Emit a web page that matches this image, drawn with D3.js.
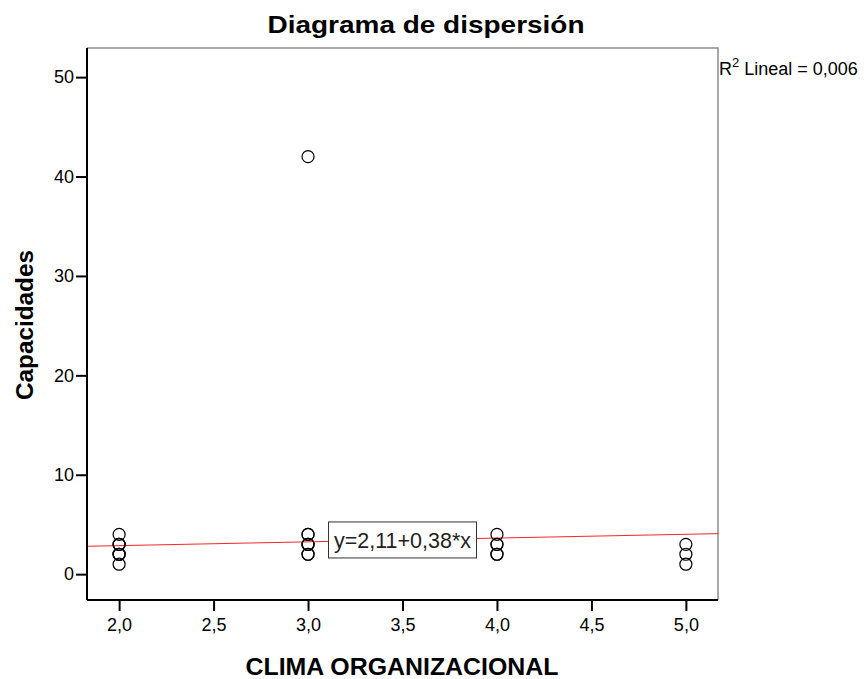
<!DOCTYPE html>
<html><head><meta charset="utf-8">
<script src="https://cdn.jsdelivr.net/npm/d3@7"></script>
<style>body{margin:0;background:#fff}svg{display:block;font-family:Arial,"Liberation Sans",sans-serif}</style>
</head><body><svg id="c" width="866" height="679"></svg>
<script>
const title = "Diagrama de dispersión";
const xLabel = "CLIMA ORGANIZACIONAL";
const yLabel = "Capacidades";
const xTicks = [2.0, 2.5, 3.0, 3.5, 4.0, 4.5, 5.0];
const yTicks = [0, 10, 20, 30, 40, 50];
const pointsX = [2,2,2,2,2,2,2,2, 3,3,3,3,3,3,3,3, 4,4,4,4,4, 5,5,5];
const pointsY = [1,2,2,2,3,3,3,4, 2,2,3,3,3,4,4,42, 2,2,3,3,4, 1,2,3];
const intercept = 2.11, slope = 0.38;
const eqText = "y=2,11+0,38*x";
const r2Text = "0,006";

const svg = d3.select("#c");
const L = 87, R = 718, T = 48, B = 600;
const x = d3.scaleLinear().domain([1.83, 5.17]).range([L, R]);
const y = d3.scaleLinear().domain([-2.6, 52.93]).range([B, T]);
const fmt = d => d.toFixed(1).replace(".", ",");

// frame top/right (gray)
svg.append("path").attr("d", `M${L},${T}H${R}V${B}`).attr("fill","none").attr("stroke","#8c8c8c").attr("stroke-width",1.5);

// regression line
const xd = x.domain();
svg.append("line").attr("x1", x(xd[0])).attr("x2", x(xd[1]))
  .attr("y1", y(intercept + slope*xd[0])).attr("y2", y(intercept + slope*xd[1]))
  .attr("stroke","#ff0000").attr("stroke-width",1).attr("opacity",0.85);

// points
svg.append("g").selectAll("circle").data(pointsX.map((v,i)=>[v,pointsY[i]])).join("circle")
  .attr("cx", d=>x(d[0])).attr("cy", d=>y(d[1])).attr("r", 6)
  .attr("fill","none").attr("stroke","#000").attr("stroke-width",1.2);

// equation box
const eg = svg.append("g").attr("transform", `translate(${x(3.5)},${y(intercept+slope*3.5)})`);
eg.append("rect").attr("x", -74).attr("y", -18).attr("width", 148).attr("height", 36)
  .attr("fill","#fff").attr("stroke","#333").attr("stroke-width",1);
eg.append("text").attr("text-anchor","middle").attr("dy","0.35em").attr("font-size",22)
  .attr("textLength",137).attr("lengthAdjust","spacingAndGlyphs").attr("fill","#222").text(eqText);

// axes
const xAxis = d3.axisBottom(x).tickValues(xTicks).tickFormat(fmt).tickSize(11).tickSizeOuter(0);
const gx = svg.append("g").attr("transform", `translate(0,${B})`).call(xAxis);
gx.select(".domain").attr("stroke","#000").attr("stroke-width",2).attr("d", `M${L},0H${R}`);
gx.selectAll(".tick line").attr("stroke","#000").attr("stroke-width",2);
gx.selectAll("text").attr("font-size",18).attr("fill","#000").attr("y",31).attr("dy",0);

const yAxis = d3.axisLeft(y).tickValues(yTicks).tickSize(11).tickSizeOuter(0);
const gy = svg.append("g").attr("transform", `translate(${L},0)`).call(yAxis);
gy.select(".domain").attr("stroke","#000").attr("stroke-width",2).attr("d", `M0,${T}V${B}`);
gy.selectAll(".tick line").attr("stroke","#000").attr("stroke-width",2);
gy.selectAll("text").attr("font-size",18).attr("fill","#000").attr("x",-13);

// titles
svg.append("text").attr("x", 426).attr("y", 33).attr("text-anchor","middle").attr("font-size",24).attr("font-weight","bold")
  .attr("textLength",317).attr("lengthAdjust","spacingAndGlyphs").text(title);
svg.append("text").attr("x", 402).attr("y", 675).attr("text-anchor","middle").attr("font-size",24).attr("font-weight","bold")
  .attr("textLength",313).attr("lengthAdjust","spacingAndGlyphs").text(xLabel);
svg.append("text").attr("transform", "translate(33,325) rotate(-90)").attr("text-anchor","middle").attr("font-size",24).attr("font-weight","bold")
  .attr("textLength",150).attr("lengthAdjust","spacingAndGlyphs").text(yLabel);

// R2
const r2 = svg.append("text").attr("x", R + 1).attr("y", 75).attr("font-size",18);
r2.append("tspan").text("R");
r2.append("tspan").attr("font-size",13).attr("dy",-8).text("2");
r2.append("tspan").attr("dy",8).text(" Lineal = " + r2Text);
</script></body></html>
